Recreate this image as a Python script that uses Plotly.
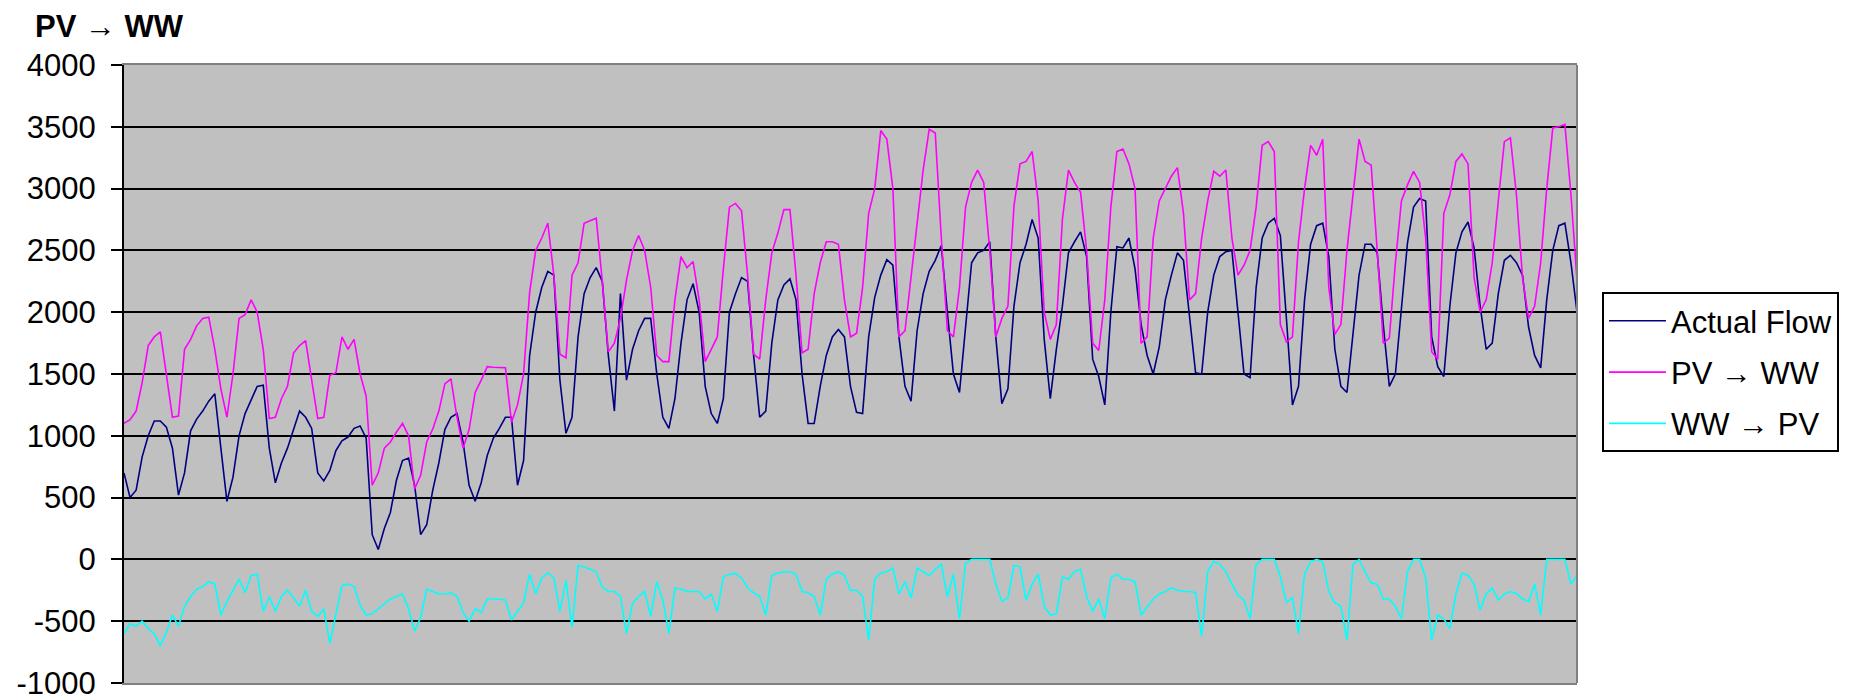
import plotly.graph_objects as go

# 3-hourly samples (index)
actual_flow = [
    700, 500, 560, 830, 1000, 1120, 1120, 1070,
    900, 520, 700, 1040, 1135, 1200, 1280, 1340,
    900, 470, 665, 1000, 1180, 1290, 1400, 1410,
    900, 620, 780, 900, 1050, 1200, 1150, 1060,
    700, 635, 720, 880, 960, 990, 1060, 1080,
    980, 200, 80, 250, 380, 640, 800, 820,
    600, 200, 280, 560, 780, 1050, 1150, 1180,
    950, 600, 470, 620, 840, 980, 1060, 1150,
    1150, 600, 800, 1650, 2000, 2200, 2330, 2300,
    1450, 1020, 1150, 1800, 2150, 2280, 2360, 2250,
    1650, 1200, 2150, 1450, 1700, 1850, 1950, 1950,
    1500, 1150, 1060, 1300, 1750, 2100, 2230, 2000,
    1400, 1180, 1100, 1300, 2000, 2150, 2280, 2250,
    1650, 1150, 1200, 1750, 2100, 2220, 2270, 2100,
    1500, 1100, 1100, 1400, 1650, 1800, 1860, 1800,
    1400, 1190, 1180, 1800, 2120, 2300, 2425, 2380,
    1800, 1400, 1280, 1850, 2150, 2330, 2420, 2540,
    2000, 1500, 1350, 1900, 2400, 2480, 2500, 2570,
    1800, 1260, 1380, 2050, 2400, 2550, 2750, 2600,
    1780, 1300, 1700, 2050, 2480, 2570, 2650, 2450,
    1620, 1480, 1250, 2000, 2530, 2520, 2600, 2350,
    1900, 1650, 1500, 1720, 2100, 2300, 2480, 2420,
    1950, 1510, 1500, 2000, 2300, 2450, 2490, 2500,
    2000, 1500, 1470, 2200, 2600, 2720, 2760, 2620,
    1950, 1250, 1400, 2100, 2550, 2700, 2720, 2450,
    1700, 1400, 1350, 1850, 2300, 2550, 2550, 2480,
    1900, 1400, 1500, 2030, 2560, 2850, 2920, 2900,
    1800, 1560, 1480, 2050, 2480, 2650, 2730, 2520,
    2050, 1700, 1750, 2150, 2420, 2460, 2400, 2300,
    1880, 1650, 1550, 2100, 2500, 2700, 2720, 2400,
    2000,
]

pv_to_ww = [
    1100, 1130, 1200, 1430, 1730, 1800, 1840, 1500,
    1150, 1160, 1700, 1780, 1890, 1950, 1960, 1700,
    1380, 1150, 1500, 1950, 1980, 2100, 2000, 1700,
    1140, 1150, 1300, 1400, 1670, 1730, 1770, 1450,
    1140, 1150, 1490, 1510, 1800, 1700, 1780, 1500,
    1320, 600, 700, 900, 950, 1030, 1100, 1000,
    570, 680, 950, 1055, 1200, 1420, 1460, 1150,
    900, 1050, 1350, 1450, 1560, 1555, 1555, 1550,
    1110, 1250, 1500, 2160, 2500, 2600, 2720, 2300,
    1660, 1630, 2300, 2400, 2720, 2740, 2760, 2250,
    1680, 1750, 1950, 2260, 2500, 2620, 2500, 2200,
    1650, 1600, 1600, 2100, 2450, 2360, 2410, 2100,
    1600, 1700, 1800, 2350, 2850, 2880, 2820, 2300,
    1660, 1620, 2100, 2480, 2640, 2830, 2830, 2300,
    1670, 1700, 2150, 2400, 2570, 2570, 2550, 2100,
    1800, 1830, 2200, 2800, 3000, 3470, 3400, 3000,
    1800, 1850, 2300, 2750, 3150, 3480, 3450, 2600,
    1850, 1800, 2200, 2850, 3050, 3150, 3050, 2500,
    1800, 1950, 2050, 2860, 3200, 3220, 3300, 2900,
    2000, 1780, 1900, 2750, 3150, 3050, 2970, 2500,
    1750, 1690, 2100, 2850, 3300, 3320, 3200, 3000,
    1750, 1800, 2600, 2900, 3000, 3100, 3170, 2800,
    2100, 2150, 2600, 2900, 3140, 3100, 3150, 2600,
    2300, 2380, 2500, 2850, 3350, 3380, 3300, 1900,
    1760, 1800, 2570, 3000, 3350, 3270, 3400, 2200,
    1820, 1900, 2500, 2950, 3400, 3220, 3190, 2500,
    1750, 1790, 2400, 2900, 3030, 3140, 3050, 2600,
    1680, 1620, 2800, 2950, 3220, 3280, 3200, 2280,
    2000, 2100, 2400, 2900, 3380, 3410, 2950, 2280,
    1950, 2050, 2400, 3000, 3490, 3500, 3520, 2950,
    2260,
]

ww_to_pv = [
    -600, -520, -540, -500, -560, -600, -700, -590,
    -450, -540, -380, -300, -240, -220, -180, -200,
    -450, -340, -250, -160, -270, -130, -120, -420,
    -300, -420, -300, -250, -310, -380, -250, -420,
    -460, -400, -680, -450, -210, -200, -220, -370,
    -450, -440, -400, -360, -320, -300, -280, -400,
    -580, -470, -240, -260, -280, -280, -270, -300,
    -430, -500, -400, -430, -320, -320, -320, -330,
    -490, -420, -350, -120, -280, -150, -110, -150,
    -420, -170, -550, -50, -60, -80, -100, -225,
    -260, -260, -300, -600, -355, -300, -260, -460,
    -180, -330, -600, -230, -240, -260, -260, -260,
    -320, -280, -420, -140, -120, -115, -150, -230,
    -270, -300, -450, -130, -110, -100, -100, -120,
    -260, -270, -300, -450, -160, -120, -100, -130,
    -250, -250, -300, -650, -160, -110, -100, -70,
    -280, -180, -310, -70, -100, -130, -80, -40,
    -300, -120, -480, -30, 0, 0, 0, 0,
    -200, -340, -310, -50, -60, -330, -200, -120,
    -380, -450, -440, -140, -160, -100, -80, -300,
    -420, -320, -480, -150, -120, -160, -160, -180,
    -450, -380, -320, -280, -260, -230, -250, -260,
    -260, -270, -620, -100, -15, -40, -100, -200,
    -290, -330, -480, -40, 0, 0, 0, -140,
    -350, -310, -600, -120, -20, 0, -20, -260,
    -350, -380, -650, -40, 0, -100, -190, -200,
    -320, -320, -380, -480, -100, 0, 0, -150,
    -650, -450, -480, -560, -280, -110, -130, -200,
    -410, -280, -230, -330, -280, -260, -275, -320,
    -340, -200, -450, 0, 0, 0, 0, -200,
    -130,
]

series_names = ["Actual Flow", "PV \u2192 WW", "WW \u2192 PV"]
series_colors = ["#000080", "#FF00FF", "#00FFFF"]
y_ticks = list(range(-1000, 4001, 500))
y_tick_text = [str(v) for v in y_ticks]  # plain hyphen minus, as in the reference

FONT = "Liberation Sans, Arial, sans-serif"

fig = go.Figure()
for name, vals, col in zip(series_names, [actual_flow, pv_to_ww, ww_to_pv], series_colors):
    fig.add_trace(go.Scatter(
        x=list(range(len(vals))), y=vals, mode="lines", name=name,
        legendgroup=name,
        line=dict(color=col, width=1.6),
    ))

# page body has an 8px default margin, so the figure is sized to fit the window
fig.update_layout(
    width=1858, height=692,
    margin=dict(l=116, r=289, t=57, b=17, autoexpand=False),
    paper_bgcolor="white",
    plot_bgcolor="#C0C0C0",
    font=dict(family=FONT, size=31, color="black"),
    showlegend=True,
    legend=dict(
        x=1.0172, xanchor="left", y=0.503, yanchor="middle",
        bgcolor="white", bordercolor="black", borderwidth=2,
        font=dict(family=FONT, size=31, color="black"),
        traceorder="grouped", tracegroupgap=8,
        itemwidth=57,
    ),
    annotations=[dict(
        text="<b>PV \u2192 WW</b>", xref="paper", yref="paper",
        x=-0.0626, y=1.0615, xanchor="left", yanchor="middle",
        showarrow=False, font=dict(family=FONT, size=31, color="black"),
    )],
    shapes=[dict(
        type="line", xref="x domain", yref="y domain",
        x0=1, x1=1, y0=0, y1=1, line=dict(color="#808080", width=2),
    )],
)

fig.update_xaxes(
    range=[0, len(actual_flow) - 1], showticklabels=False, ticks="",
    showgrid=False, zeroline=False, automargin=False,
    showline=True, linecolor="#808080", linewidth=2, mirror=True,
)
fig.update_yaxes(
    range=[-1000, 4000], tickvals=y_ticks, ticktext=y_tick_text,
    showgrid=True, gridcolor="#000000", gridwidth=2,
    zeroline=False, automargin=False,
    showline=True, linecolor="#000000", linewidth=2,
    ticks="outside", ticklen=11, tickwidth=2, tickcolor="#000000",
    ticklabelstandoff=9, ticklabeloverflow="allow",
    tickfont=dict(family=FONT, size=31, color="black"),
)

fig.write_html("out.html")
